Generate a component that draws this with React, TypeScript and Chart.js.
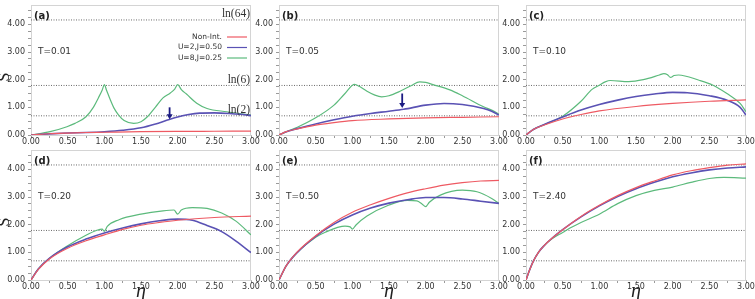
import React, { useEffect, useRef } from "react";
import { Chart, registerables } from "chart.js";

Chart.register(...registerables);

type Pt = [number, number];

// ---- axes ----
const ETA_MIN = 0;
const ETA_MAX = 3;
const S_MIN = 0;
const S_MAX = 4.7;
const X_MAJOR = [0, 0.5, 1, 1.5, 2, 2.5, 3];
const X_MAJOR_LABELS = ["0.00", "0.50", "1.00", "1.50", "2.00", "2.50", "3.00"];
const X_MINOR = [0.25, 0.75, 1.25, 1.75, 2.25, 2.75];
const Y_MAJOR = [0, 1, 2, 3, 4];
const Y_MAJOR_LABELS = ["0.00", "1.00", "2.00", "3.00", "4.00"];
const Y_MINOR = [0.25, 0.5, 0.75, 1.25, 1.5, 1.75, 2.25, 2.5, 2.75, 3.25, 3.5, 3.75, 4.25, 4.5];

// ---- reference entropies ----
const REF_LEVELS = [Math.log(2), Math.log(6), Math.log(64)];
const REF_LABELS = ["ln(2)", "ln(6)", "ln(64)"];

// ---- series ----
const SERIES_NAMES = ["Non-Int.", "U=2,J=0.50", "U=8,J=0.25"];
const SERIES_COLORS = ["#ee5a63", "#5a52b4", "#5cba7c"];
const SERIES_WIDTHS = [1.2, 1.6, 1.2];

const PANEL_TAGS = ["(a)", "(b)", "(c)", "(d)", "(e)", "(f)"];
const TEMPS = ["T=0.01", "T=0.05", "T=0.10", "T=0.20", "T=0.50", "T=2.40"];

// (a) T=0.01
const A_NONINT: Pt[] = [[0, 0], [0.1, 0.02], [0.25, 0.045], [0.5, 0.07], [0.75, 0.09], [1, 0.1], [1.5, 0.12], [2, 0.13], [2.5, 0.135], [3, 0.14]];
const A_U2: Pt[] = [[0, 0], [0.25, 0.04], [0.5, 0.07], [0.75, 0.09], [1, 0.12], [1.25, 0.17], [1.5, 0.26], [1.7, 0.4], [1.85, 0.53], [2.0, 0.65], [2.15, 0.74], [2.3, 0.79], [2.5, 0.8], [2.7, 0.78], [2.85, 0.75], [3, 0.7]];
const A_U8: Pt[] = [[0, 0], [0.26, 0.12], [0.49, 0.3], [0.6, 0.42], [0.75, 0.66], [0.85, 1.0], [0.92, 1.35], [0.97, 1.62], [1.0, 1.82], [1.03, 1.62], [1.08, 1.28], [1.13, 0.98], [1.19, 0.74], [1.27, 0.52], [1.4, 0.42], [1.5, 0.48], [1.58, 0.64], [1.7, 1.02], [1.8, 1.34], [1.9, 1.52], [1.96, 1.66], [2.0, 1.82], [2.05, 1.64], [2.12, 1.48], [2.26, 1.15], [2.4, 0.96], [2.67, 0.84], [3.0, 0.72]];

// (b) T=0.05
const B_NONINT: Pt[] = [[0, 0], [0.1, 0.12], [0.25, 0.22], [0.5, 0.36], [0.75, 0.45], [1, 0.52], [1.5, 0.58], [2, 0.62], [2.5, 0.64], [3, 0.66]];
const B_U2: Pt[] = [[0, 0], [0.1, 0.12], [0.25, 0.23], [0.5, 0.4], [0.75, 0.55], [1, 0.68], [1.25, 0.78], [1.5, 0.86], [1.7, 0.93], [2.0, 1.08], [2.25, 1.14], [2.5, 1.1], [2.79, 0.96], [2.9, 0.86], [3, 0.72]];
const B_U8: Pt[] = [[0, 0], [0.1, 0.12], [0.25, 0.28], [0.5, 0.62], [0.75, 1.08], [0.9, 1.5], [1.03, 1.83], [1.1, 1.75], [1.2, 1.58], [1.3, 1.45], [1.4, 1.38], [1.5, 1.42], [1.65, 1.58], [1.8, 1.78], [1.92, 1.92], [2.0, 1.9], [2.1, 1.82], [2.33, 1.63], [2.5, 1.42], [2.79, 1.02], [2.9, 0.9], [3, 0.75]];

// (c) T=0.10
const C_NONINT: Pt[] = [[0, 0], [0.1, 0.2], [0.25, 0.36], [0.5, 0.58], [0.75, 0.74], [1, 0.87], [1.5, 1.03], [2, 1.14], [2.5, 1.22], [3, 1.27]];
const C_U2: Pt[] = [[0, 0], [0.1, 0.2], [0.25, 0.38], [0.5, 0.65], [0.75, 0.9], [1, 1.1], [1.25, 1.26], [1.5, 1.39], [1.75, 1.48], [2, 1.54], [2.2, 1.53], [2.5, 1.42], [2.75, 1.25], [2.92, 1.0], [3, 0.72]];
const C_U8: Pt[] = [[0, 0], [0.1, 0.2], [0.25, 0.38], [0.5, 0.68], [0.75, 1.22], [0.9, 1.65], [1.0, 1.8], [1.08, 1.92], [1.15, 1.97], [1.4, 1.93], [1.6, 2.0], [1.82, 2.17], [1.88, 2.22], [1.93, 2.18], [1.97, 2.08], [2.02, 2.15], [2.08, 2.17], [2.36, 1.98], [2.55, 1.8], [2.74, 1.5], [2.92, 1.14], [3, 0.84]];

// (d) T=0.20
const D_NONINT: Pt[] = [[0, 0], [0.1, 0.38], [0.25, 0.76], [0.5, 1.15], [0.75, 1.42], [1, 1.63], [1.25, 1.83], [1.5, 1.98], [1.75, 2.08], [2, 2.16], [2.5, 2.26], [3, 2.31]];
const D_U2: Pt[] = [[0, 0], [0.1, 0.4], [0.25, 0.78], [0.5, 1.2], [0.75, 1.48], [1, 1.7], [1.25, 1.88], [1.5, 2.03], [1.75, 2.14], [2.0, 2.2], [2.2, 2.16], [2.4, 1.97], [2.6, 1.75], [2.8, 1.4], [3, 0.99]];
const D_U8: Pt[] = [[0, 0], [0.1, 0.4], [0.25, 0.78], [0.5, 1.24], [0.75, 1.62], [0.9, 1.8], [0.97, 1.84], [1.0, 1.76], [1.04, 1.94], [1.2, 2.18], [1.5, 2.38], [1.8, 2.5], [1.95, 2.53], [2.0, 2.38], [2.05, 2.53], [2.2, 2.62], [2.4, 2.59], [2.6, 2.42], [2.8, 2.12], [3, 1.63]];

// (e) T=0.50
const E_NONINT: Pt[] = [[0, 0], [0.1, 0.52], [0.25, 1.02], [0.5, 1.6], [0.75, 2.08], [1, 2.45], [1.25, 2.72], [1.5, 2.95], [1.75, 3.15], [2, 3.3], [2.25, 3.43], [2.5, 3.52], [2.75, 3.58], [3, 3.6]];
const E_U2: Pt[] = [[0, 0], [0.1, 0.52], [0.25, 1.0], [0.5, 1.58], [0.75, 2.02], [1, 2.35], [1.25, 2.6], [1.5, 2.78], [1.75, 2.9], [2, 2.98], [2.25, 2.98], [2.5, 2.93], [2.75, 2.85], [3, 2.77]];
const E_U8: Pt[] = [[0, 0], [0.1, 0.52], [0.25, 1.0], [0.5, 1.55], [0.65, 1.75], [0.8, 1.9], [0.9, 1.95], [0.97, 1.92], [1.0, 1.84], [1.05, 1.99], [1.2, 2.31], [1.5, 2.71], [1.75, 2.88], [1.88, 2.86], [1.95, 2.75], [2.0, 2.65], [2.05, 2.81], [2.2, 3.07], [2.5, 3.25], [2.7, 3.19], [2.9, 2.95], [3, 2.77]];

// (f) T=2.40
const F_NONINT: Pt[] = [[0, 0], [0.04, 0.3], [0.1, 0.68], [0.17, 1.0], [0.25, 1.25], [0.35, 1.5], [0.5, 1.82], [0.75, 2.3], [1, 2.7], [1.25, 3.05], [1.5, 3.34], [1.75, 3.58], [2, 3.8], [2.25, 3.95], [2.5, 4.06], [2.75, 4.15], [3, 4.2]];
const F_U2: Pt[] = [[0, 0], [0.04, 0.3], [0.1, 0.68], [0.17, 1.0], [0.25, 1.25], [0.35, 1.5], [0.5, 1.82], [0.75, 2.28], [1, 2.68], [1.25, 3.02], [1.5, 3.3], [1.75, 3.53], [2, 3.73], [2.25, 3.87], [2.5, 3.98], [2.75, 4.05], [3, 4.09]];
const F_U8: Pt[] = [[0, 0], [0.04, 0.3], [0.1, 0.68], [0.17, 1.0], [0.25, 1.25], [0.35, 1.48], [0.5, 1.72], [0.6, 1.88], [0.75, 2.08], [1, 2.38], [1.25, 2.76], [1.5, 3.05], [1.75, 3.24], [2, 3.36], [2.25, 3.53], [2.5, 3.67], [2.7, 3.71], [3, 3.68]];

// arrows marking the U=2 curve: [panel, eta, S at tail, S at tip]
const ARROWS: [number, number, number, number][] = [
  [0, 1.89, 1.0, 0.57],
  [1, 1.68, 1.5, 0.98],
];

// ---- layout ----
const PLOT_W = 220;
const PLOT_H = 130;
const Y_AXIS_W = 32;
const X_AXIS_H = 14;
const PAD_TOP = 8;
const PAD_RIGHT = 14;
const COL_LEFT = [31, 279, 526];
const ROW_TOP = [5, 150];

const TICK_FONT = { family: "'DejaVu Sans', sans-serif", size: 8 };

interface PanelDef {
  index: number;
  series: Pt[][];
  row: number;
  col: number;
}

const PANELS: PanelDef[] = [
  { index: 0, row: 0, col: 0, series: [A_NONINT, A_U2, A_U8] },
  { index: 1, row: 0, col: 1, series: [B_NONINT, B_U2, B_U8] },
  { index: 2, row: 0, col: 2, series: [C_NONINT, C_U2, C_U8] },
  { index: 3, row: 1, col: 0, series: [D_NONINT, D_U2, D_U8] },
  { index: 4, row: 1, col: 1, series: [E_NONINT, E_U2, E_U8] },
  { index: 5, row: 1, col: 2, series: [F_NONINT, F_U2, F_U8] },
];

function labelFor(value: number, ticks: number[], labels: string[]): string {
  const i = ticks.findIndex((t) => Math.abs(t - value) < 1e-9);
  return i >= 0 ? labels[i] : "";
}

function decorPlugin(p: PanelDef) {
  return {
    id: "panelDecor",
    beforeDatasetsDraw(chart: any) {
      const { ctx, chartArea: a } = chart;
      ctx.save();
      ctx.strokeStyle = "#d4d4d4";
      ctx.lineWidth = 1;
      ctx.strokeRect(Math.round(a.left) + 0.5, Math.round(a.top) + 0.5, Math.round(a.width) - 1, Math.round(a.height));
      ctx.restore();
    },
    afterDraw(chart: any) {
      const { ctx, chartArea: a, scales } = chart;
      const xs = scales.x;
      const ys = scales.y;
      ctx.save();
      // panel tag
      ctx.fillStyle = "#222";
      ctx.textBaseline = "middle";
      ctx.textAlign = "left";
      ctx.font = "bold 10px 'DejaVu Sans', sans-serif";
      ctx.fillText(PANEL_TAGS[p.index], a.left + 3, a.top + 11);
      // temperature
      ctx.font = "9px 'DejaVu Sans', sans-serif";
      ctx.fillStyle = "#333";
      ctx.fillText(TEMPS[p.index], a.left + 7, a.top + 47);

      if (p.index === 0) {
        // reference labels
        ctx.font = "11.5px 'Liberation Serif', serif";
        ctx.textAlign = "right";
        ctx.textBaseline = "alphabetic";
        ctx.fillStyle = "#333";
        REF_LEVELS.forEach((lv, i) => {
          ctx.fillText(REF_LABELS[i], a.right - 1, ys.getPixelForValue(lv) - 2.5);
        });
        // legend
        ctx.font = "7.5px 'DejaVu Sans', sans-serif";
        ctx.textBaseline = "middle";
        SERIES_NAMES.forEach((name, i) => {
          const y = a.top + 32 + i * 10.5;
          ctx.fillStyle = "#333";
          ctx.fillText(name, a.right - 29, y);
          ctx.strokeStyle = SERIES_COLORS[i];
          ctx.lineWidth = 1.2;
          ctx.beginPath();
          ctx.moveTo(a.right - 24, y);
          ctx.lineTo(a.right - 4, y);
          ctx.stroke();
        });
      }

      // arrows
      ARROWS.filter((ar) => ar[0] === p.index).forEach(([, eta, s0, s1]) => {
        const x = xs.getPixelForValue(eta);
        const y0 = ys.getPixelForValue(s0);
        const y1 = ys.getPixelForValue(s1);
        ctx.strokeStyle = "#1b1b82";
        ctx.fillStyle = "#1b1b82";
        ctx.lineWidth = 1.8;
        ctx.beginPath();
        ctx.moveTo(x, y0);
        ctx.lineTo(x, y1 - 4);
        ctx.stroke();
        ctx.beginPath();
        ctx.moveTo(x - 3, y1 - 5);
        ctx.lineTo(x + 3, y1 - 5);
        ctx.lineTo(x, y1);
        ctx.closePath();
        ctx.fill();
      });

      // axis titles
      ctx.fillStyle = "#222";
      if (p.col === 0) {
        ctx.save();
        ctx.translate(a.left - 26, a.top + 72);
        ctx.rotate(-Math.PI / 2);
        ctx.font = "16px 'Liberation Serif', serif";
        ctx.textAlign = "center";
        ctx.textBaseline = "middle";
        ctx.fillText("S", 0, 0);
        ctx.restore();
      }
      if (p.row === 1) {
        ctx.font = "italic 20px 'Liberation Serif', serif";
        ctx.textAlign = "center";
        ctx.textBaseline = "alphabetic";
        ctx.fillText("η", (a.left + a.right) / 2, a.bottom + 17);
      }
      ctx.restore();
    },
  };
}

function Panel({ def }: { def: PanelDef }) {
  const ref = useRef<HTMLCanvasElement>(null);
  const extraBottom = def.row === 1 ? 5 : 0;
  const width = Y_AXIS_W + PLOT_W + PAD_RIGHT;
  const height = PAD_TOP + PLOT_H + X_AXIS_H + extraBottom;
  const left = COL_LEFT[def.col] - Y_AXIS_W;
  const top = ROW_TOP[def.row] - PAD_TOP;

  useEffect(() => {
    const curves = def.series.map((pts, i) => ({
      label: SERIES_NAMES[i],
      data: pts.map(([x, y]) => ({ x, y })),
      borderColor: SERIES_COLORS[i],
      borderWidth: SERIES_WIDTHS[i],
      pointRadius: 0,
      fill: false,
      cubicInterpolationMode: "monotone" as const,
    }));
    const refs = REF_LEVELS.map((lv, i) => ({
      label: REF_LABELS[i],
      data: [
        { x: ETA_MIN, y: lv },
        { x: ETA_MAX, y: lv },
      ],
      borderColor: "#6a6a6a",
      borderWidth: 1,
      borderDash: [1, 1.5],
      pointRadius: 0,
      fill: false,
    }));

    const chart = new Chart(ref.current!, {
      type: "line",
      data: { datasets: [...curves, ...refs] as any },
      plugins: [decorPlugin(def) as any],
      options: {
        responsive: false,
        animation: false,
        events: [],
        layout: { padding: { top: PAD_TOP, right: PAD_RIGHT, left: 0, bottom: extraBottom } },
        plugins: { legend: { display: false }, tooltip: { enabled: false } },
        scales: {
          x: {
            type: "linear",
            min: ETA_MIN,
            max: ETA_MAX,
            afterBuildTicks: (s: any) => {
              s.ticks = [...X_MAJOR, ...X_MINOR].sort((p, q) => p - q).map((v) => ({ value: v }));
            },
            afterFit: (s: any) => {
              s.height = X_AXIS_H;
            },
            ticks: {
              autoSkip: false,
              maxRotation: 0,
              padding: -1,
              color: "#333",
              font: TICK_FONT,
              callback: (v: any) => labelFor(Number(v), X_MAJOR, X_MAJOR_LABELS),
            },
            grid: { drawOnChartArea: false, tickLength: 3, color: "#9a9a9a" },
            border: { color: "#b8b8b8" },
          },
          y: {
            type: "linear",
            min: S_MIN,
            max: S_MAX,
            afterBuildTicks: (s: any) => {
              s.ticks = [...Y_MAJOR, ...Y_MINOR].sort((p, q) => p - q).map((v) => ({ value: v }));
            },
            afterFit: (s: any) => {
              s.width = Y_AXIS_W;
            },
            ticks: {
              autoSkip: false,
              padding: 3,
              color: "#333",
              font: TICK_FONT,
              callback: (v: any) => labelFor(Number(v), Y_MAJOR, Y_MAJOR_LABELS),
            },
            grid: { drawOnChartArea: false, tickLength: 3, color: "#9a9a9a" },
            border: { color: "#b8b8b8" },
          },
        },
      } as any,
    });
    return () => chart.destroy();
  }, []);

  return (
    <canvas
      ref={ref}
      width={width}
      height={height}
      style={{ position: "absolute", left, top, width, height }}
    />
  );
}

export default function App() {
  return (
    <div
      style={{
        position: "absolute",
        left: 0,
        top: 0,
        width: 755,
        height: 299,
        background: "#ffffff",
        overflow: "hidden",
      }}
    >
      {PANELS.map((p) => (
        <Panel key={p.index} def={p} />
      ))}
    </div>
  );
}
